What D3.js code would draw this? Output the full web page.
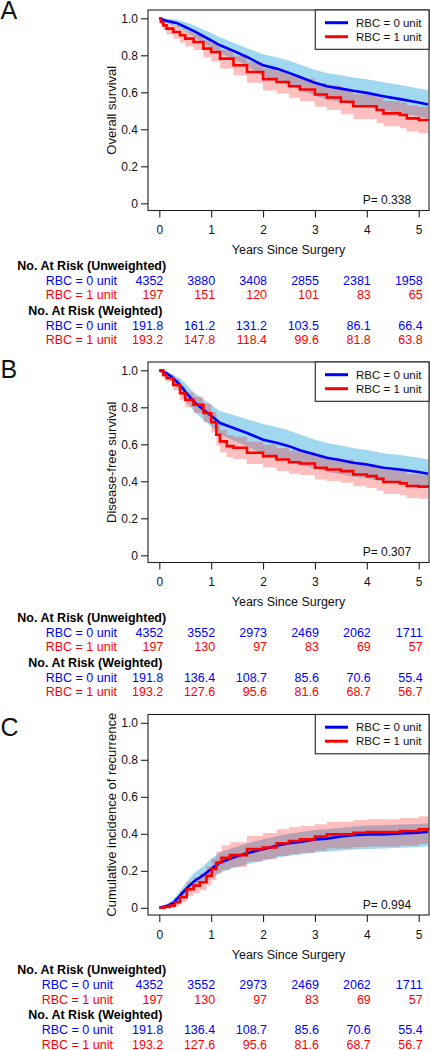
<!DOCTYPE html>
<html><head><meta charset="utf-8">
<script src="https://cdn.jsdelivr.net/npm/d3@7"></script>
<style>body{margin:0;background:#fff} svg{display:block;font-family:Arial,"Liberation Sans",sans-serif}</style>
</head><body><svg id="c" width="430" height="1050"></svg>
<script>
// ---------- data ----------
const seriesNames = ["RBC = 0 unit", "RBC = 1 unit"];
const xTicks = [0, 1, 2, 3, 4, 5];
const yTicks = [0, 0.2, 0.4, 0.6, 0.8, 1.0];
const panelLetters = ["A", "B", "C"];
const yTitles = ["Overall survival", "Disease-free survival", "Cumulative incidence of recurrence"];
const pValues = ["P= 0.338", "P= 0.307", "P= 0.994"];

// Panel A: overall survival
const tA0 = [0,0.14,0.33,0.5,0.66,0.85,1,1.17,1.43,1.69,2,2.26,2.5,2.71,3,3.23,3.5,3.74,4,4.32,4.64,5,5.18];
const sA0 = [1,0.986,0.975,0.953,0.932,0.903,0.881,0.854,0.824,0.791,0.746,0.728,0.705,0.683,0.651,0.633,0.62,0.608,0.597,0.579,0.563,0.545,0.534];
const uA0 = [1,0.997,0.993,0.978,0.962,0.94,0.92,0.897,0.868,0.838,0.806,0.79,0.77,0.75,0.72,0.705,0.692,0.68,0.67,0.655,0.64,0.62,0.612];
const lA0 = [1,0.975,0.955,0.928,0.902,0.866,0.842,0.811,0.78,0.744,0.686,0.666,0.64,0.616,0.582,0.561,0.548,0.536,0.524,0.503,0.486,0.47,0.458];
const tA1 = [0,0.03,0.077,0.14,0.27,0.4,0.5,0.66,0.85,1,1.17,1.43,1.69,2,2.26,2.5,2.71,3,3.23,3.5,3.74,4,4.19,4.32,4.64,4.77,5,5.18];
const sA1 = [1,0.98,0.962,0.944,0.926,0.908,0.89,0.872,0.836,0.818,0.782,0.746,0.71,0.671,0.656,0.633,0.615,0.588,0.572,0.549,0.525,0.525,0.504,0.486,0.477,0.459,0.45,0.446];
const uA1 = [1,0.995,0.985,0.972,0.958,0.944,0.93,0.913,0.88,0.863,0.83,0.797,0.763,0.727,0.713,0.692,0.675,0.65,0.635,0.613,0.59,0.59,0.57,0.553,0.545,0.528,0.52,0.516];
const lA1 = [1,0.962,0.935,0.912,0.89,0.868,0.847,0.828,0.788,0.768,0.729,0.691,0.652,0.61,0.594,0.57,0.551,0.522,0.505,0.481,0.456,0.456,0.434,0.416,0.406,0.388,0.379,0.375];

// Panel B: disease-free survival
const tB0 = [0,0.14,0.27,0.4,0.5,0.66,0.85,1,1.17,1.43,1.69,2,2.26,2.5,2.71,3,3.23,3.5,3.74,4,4.32,4.64,5,5.18];
const sB0 = [1,0.984,0.957,0.921,0.885,0.832,0.787,0.754,0.715,0.688,0.661,0.625,0.608,0.59,0.568,0.545,0.527,0.514,0.5,0.491,0.473,0.464,0.45,0.441];
const uB0 = [1,0.994,0.977,0.956,0.93,0.882,0.842,0.814,0.78,0.758,0.736,0.71,0.693,0.675,0.653,0.625,0.607,0.594,0.58,0.569,0.551,0.542,0.527,0.518];
const lB0 = [1,0.972,0.932,0.886,0.84,0.782,0.732,0.697,0.653,0.621,0.589,0.547,0.53,0.512,0.491,0.47,0.452,0.439,0.425,0.416,0.398,0.389,0.375,0.366];
const tB1 = [0,0.077,0.14,0.27,0.4,0.5,0.66,0.85,1,1.1,1.17,1.3,1.43,1.69,2,2.26,2.5,2.71,3,3.23,3.5,3.74,4,4.19,4.32,4.64,4.77,5,5.18];
const sB1 = [1,0.975,0.957,0.921,0.876,0.84,0.814,0.769,0.719,0.652,0.616,0.59,0.581,0.554,0.536,0.518,0.503,0.496,0.473,0.464,0.455,0.437,0.428,0.414,0.396,0.389,0.375,0.371,0.366];
const uB1 = [1,0.99,0.977,0.951,0.911,0.88,0.859,0.819,0.774,0.71,0.676,0.65,0.641,0.614,0.598,0.58,0.565,0.558,0.536,0.527,0.518,0.501,0.492,0.478,0.461,0.454,0.44,0.436,0.431];
const lB1 = [1,0.96,0.937,0.891,0.841,0.8,0.769,0.719,0.664,0.594,0.556,0.53,0.521,0.494,0.474,0.456,0.441,0.434,0.41,0.401,0.392,0.373,0.364,0.35,0.331,0.324,0.31,0.306,0.301];

// Panel C: cumulative incidence of recurrence
const tC0 = [0,0.14,0.27,0.4,0.5,0.66,0.85,1,1.17,1.43,1.69,2,2.26,2.5,2.71,3,3.23,3.5,3.74,4,4.32,4.64,5,5.18];
const sC0 = [0,0.009,0.027,0.066,0.098,0.141,0.177,0.209,0.245,0.272,0.295,0.317,0.335,0.349,0.356,0.37,0.374,0.385,0.392,0.397,0.397,0.402,0.406,0.411];
const uC0 = [0,0.02,0.045,0.09,0.13,0.185,0.225,0.265,0.3,0.325,0.348,0.37,0.387,0.4,0.408,0.42,0.425,0.433,0.44,0.445,0.446,0.45,0.453,0.457];
const lC0 = [0,0.002,0.012,0.042,0.068,0.1,0.13,0.158,0.19,0.215,0.235,0.254,0.27,0.282,0.288,0.299,0.303,0.31,0.315,0.318,0.32,0.325,0.328,0.332];
const tC1 = [0,0.1,0.2,0.3,0.4,0.53,0.66,0.78,0.91,1.01,1.1,1.2,1.36,1.69,2,2.26,2.5,2.71,3,3.23,3.5,3.74,4,4.32,4.64,5,5.18];
const sC1 = [0,0.005,0.012,0.03,0.057,0.1,0.12,0.138,0.173,0.21,0.245,0.27,0.285,0.317,0.326,0.349,0.361,0.37,0.385,0.397,0.397,0.406,0.41,0.41,0.415,0.424,0.433];
const uC1 = [0,0.012,0.028,0.055,0.09,0.14,0.165,0.185,0.225,0.265,0.305,0.338,0.355,0.39,0.405,0.425,0.435,0.442,0.452,0.465,0.465,0.474,0.478,0.479,0.485,0.495,0.503];
const lC1 = [0,0,0.002,0.01,0.03,0.065,0.08,0.095,0.12,0.15,0.185,0.205,0.22,0.25,0.262,0.28,0.29,0.298,0.31,0.32,0.32,0.328,0.332,0.332,0.337,0.345,0.352];

// Numbers at risk
const riskUnwA0 = [4352, 3880, 3408, 2855, 2381, 1958];
const riskUnwA1 = [197, 151, 120, 101, 83, 65];
const riskWtA0 = [191.8, 161.2, 131.2, 103.5, 86.1, 66.4];
const riskWtA1 = [193.2, 147.8, 118.4, 99.6, 81.8, 63.8];
const riskUnwBC0 = [4352, 3552, 2973, 2469, 2062, 1711];
const riskUnwBC1 = [197, 130, 97, 83, 69, 57];
const riskWtBC0 = [191.8, 136.4, 108.7, 85.6, 70.6, 55.4];
const riskWtBC1 = [193.2, 127.6, 95.6, 81.6, 68.7, 56.7];

// ---------- build ----------
const zip = (t, s, l, u) => t.map((d, i) => ({t: d, s: s[i], l: l[i], u: u[i]}));
const panels = [
  {off: 0, letterY: 19, labX: 45.7,
   series: [zip(tA0, sA0, lA0, uA0), zip(tA1, sA1, lA1, uA1)],
   risk: [riskUnwA0, riskUnwA1, riskWtA0, riskWtA1]},
  {off: 352, letterY: 26, labX: 45.7,
   series: [zip(tB0, sB0, lB0, uB0), zip(tB1, sB1, lB1, uB1)],
   risk: [riskUnwBC0, riskUnwBC1, riskWtBC0, riskWtBC1]},
  {off: 704.5, letterY: 31, labX: 41.7,
   series: [zip(tC0, sC0, lC0, uC0), zip(tC1, sC1, lC1, uC1)],
   risk: [riskUnwBC0, riskUnwBC1, riskWtBC0, riskWtBC1]}
];

const colors = ["#0000ff", "#ff0000"];
const bandFill = ["rgba(135,206,235,0.79)", "rgba(255,0,0,0.25)"];
const curves = [d3.curveLinear, d3.curveStepAfter];

const svg = d3.select("#c");
const x = d3.scaleLinear().domain([0, 5]).range([159.3, 418.7]);
const y = d3.scaleLinear().domain([0, 1]).range([203.3, 18.3]);
const boxL = 148, boxR = 429, boxT = 10, boxB = 210.5;

panels.forEach((P, pi) => {
  const g = svg.append("g").attr("transform", `translate(0,${P.off})`);
  const cid = "clip" + pi;
  g.append("clipPath").attr("id", cid).append("rect")
    .attr("x", boxL).attr("y", boxT).attr("width", boxR - boxL).attr("height", boxB - boxT);
  const plot = g.append("g").attr("clip-path", `url(#${cid})`);

  P.series.forEach((S, si) => {
    plot.append("path").datum(S)
      .attr("fill", bandFill[si])
      .attr("d", d3.area().curve(curves[si]).x(d => x(d.t)).y0(d => y(d.l)).y1(d => y(d.u)));
  });
  P.series.forEach((S, si) => {
    plot.append("path").datum(S)
      .attr("fill", "none").attr("stroke", colors[si]).attr("stroke-width", 2.6)
      .attr("d", d3.line().curve(curves[si]).x(d => x(d.t)).y(d => y(d.s)));
  });

  // frame
  g.append("rect").attr("x", boxL).attr("y", boxT).attr("width", boxR - boxL).attr("height", boxB - boxT)
    .attr("fill", "none").attr("stroke", "#222").attr("stroke-width", 1.1);

  // axes
  const xa = g.append("g").attr("transform", `translate(0,${boxB})`)
    .call(d3.axisBottom(x).tickValues(xTicks).tickSize(7).tickPadding(8).tickFormat(d3.format("d")));
  const ya = g.append("g").attr("transform", `translate(${boxL},0)`)
    .call(d3.axisLeft(y).tickValues(yTicks).tickSize(7).tickPadding(3).tickFormat(d => d === 0 ? "0" : d3.format(".1f")(d)));
  [xa, ya].forEach(a => {
    a.select(".domain").remove();
    a.selectAll("line").attr("stroke", "#222").attr("stroke-width", 1.1);
    a.selectAll("text").attr("font-size", 12).attr("fill", "#111").attr("font-family", "Arial, 'Liberation Sans', sans-serif");
  });

  // y title
  g.append("text").attr("transform", `translate(111,${(boxT + boxB) / 2}) rotate(-90)`)
    .attr("text-anchor", "middle").attr("dominant-baseline", "central")
    .attr("font-size", 13).attr("fill", "#111").text(yTitles[pi]);

  // panel letter
  g.append("text").attr("x", 0.5).attr("y", P.letterY).attr("font-size", 25).attr("fill", "#111").text(panelLetters[pi]);

  // legend
  g.append("rect").attr("x", 315.3).attr("y", boxT).attr("width", boxR - 315.3).attr("height", 39.3)
    .attr("fill", "#fff").attr("stroke", "#222").attr("stroke-width", 1.1);
  seriesNames.forEach((n, si) => {
    const ly = 22.7 + si * 14;
    g.append("line").attr("x1", 325).attr("x2", 348).attr("y1", ly).attr("y2", ly)
      .attr("stroke", colors[si]).attr("stroke-width", 3);
    g.append("text").attr("x", 356).attr("y", ly).attr("dominant-baseline", "central")
      .attr("font-size", 11.5).attr("fill", "#111").text(n);
  });

  // p value
  g.append("text").attr("x", 362.7).attr("y", 200).attr("dominant-baseline", "central")
    .attr("font-size", 12).attr("fill", "#111").text(pValues[pi]);

  // x title
  g.append("text").attr("x", (boxL + boxR) / 2).attr("y", 250).attr("text-anchor", "middle")
    .attr("dominant-baseline", "central").attr("font-size", 12.5).attr("fill", "#111").text("Years Since Surgery");

  // risk table
  const rows = [265.5, 280.5, 295.3, 310.5, 325.8, 340.3];
  g.append("text").attr("x", 17.3).attr("y", rows[0]).attr("dominant-baseline", "central")
    .attr("font-size", 12.5).attr("font-weight", "bold").attr("fill", "#000").text("No. At Risk (Unweighted)");
  g.append("text").attr("x", 28.3).attr("y", rows[3]).attr("dominant-baseline", "central")
    .attr("font-size", 12.5).attr("font-weight", "bold").attr("fill", "#000").text("No. At Risk (Weighted)");
  const rowY = [rows[1], rows[2], rows[4], rows[5]];
  P.risk.forEach((vals, ri) => {
    const si = ri % 2;
    const yy = rowY[ri];
    g.append("text").attr("x", P.labX).attr("y", yy).attr("dominant-baseline", "central")
      .attr("font-size", 12.5).attr("fill", colors[si]).text(seriesNames[si]);
    g.selectAll(null).data(vals).enter().append("text")
      .attr("x", (d, k) => x(xTicks[k]) + 4).attr("y", yy).attr("text-anchor", "end")
      .attr("dominant-baseline", "central").attr("font-size", 12.5).attr("fill", colors[si])
      .text(d => ri < 2 ? d3.format("d")(d) : d3.format(".1f")(d));
  });
});
</script></body></html>
